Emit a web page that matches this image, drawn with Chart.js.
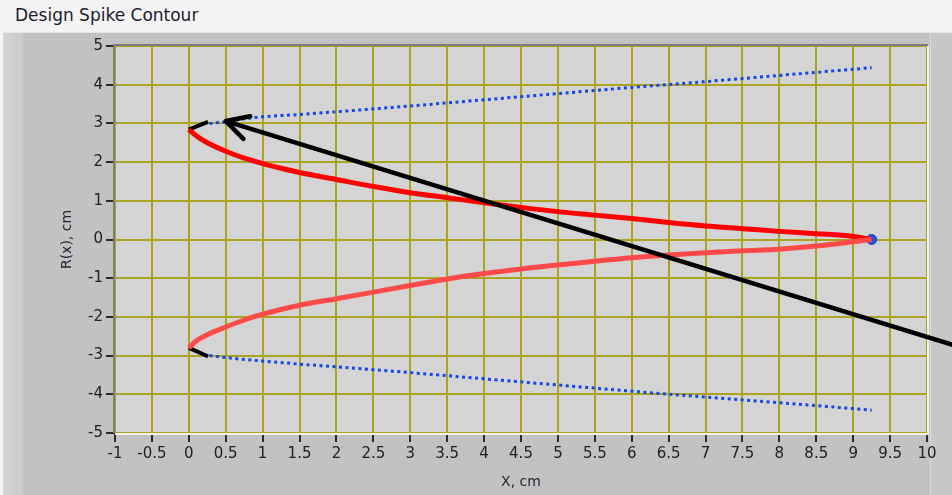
<!DOCTYPE html>
<html>
<head>
<meta charset="utf-8">
<script src="https://cdn.jsdelivr.net/npm/chart.js@4.4.1/dist/chart.umd.min.js"></script>
<style>
  html, body { margin: 0; padding: 0; }
  body { width: 952px; height: 495px; background: #f4f4f4; position: relative; overflow: hidden; font-family: "DejaVu Sans", sans-serif; }
  #title { position: absolute; left: 15px; top: 5px; font-size: 17px; color: #1c1c2c; white-space: nowrap; }
  #panel { position: absolute; left: 3px; top: 32px; right: 0; bottom: 0; background: #c2c2c2; border-top: 1px solid #e6e6e6; }
  #panel .lstrip { position: absolute; left: 0; top: 0; bottom: 0; width: 20px; background: linear-gradient(to right, #d4d4d4, #c9c9c9); }
  #panel .rstrip { position: absolute; right: 0; top: 0; bottom: 0; width: 21px; background: #c7c7c7; border-left: 1px solid #dcdcdc; }
  #chart { position: absolute; left: 0; top: 0; }
</style>
</head>
<body>
<div id="title">Design Spike Contour</div>
<div id="panel"><div class="lstrip"></div><div class="rstrip"></div></div>
<canvas id="chart" width="952" height="495"></canvas>
<script>
document.addEventListener('DOMContentLoaded', () => {

    // Valores.
    const xTickValues = [-1, -0.5, 0, 0.5, 1, 1.5, 2, 2.5, 3, 3.5, 4, 4.5, 5, 5.5, 6, 6.5, 7, 7.5, 8, 8.5, 9, 9.5, 10];
    const yTickValues = [-5, -4, -3, -2, -1, 0, 1, 2, 3, 4, 5];

    const contourX = [0, 0.1, 0.25, 0.5, 0.75, 1, 1.25, 1.5, 2, 2.5, 3, 3.5, 4, 4.5, 5, 5.5, 6, 6.5, 7, 7.5, 8, 8.5, 9, 9.25];
    const contourUpper = [2.84, 2.68, 2.50, 2.28, 2.10, 1.96, 1.84, 1.73, 1.55, 1.37, 1.21, 1.08, 0.95, 0.83, 0.72, 0.63, 0.54, 0.44, 0.35, 0.28, 0.21, 0.15, 0.08, 0];
    const contourLower = [-2.80, -2.62, -2.46, -2.26, -2.08, -1.93, -1.81, -1.70, -1.53, -1.36, -1.19, -1.02, -0.88, -0.76, -0.66, -0.56, -0.47, -0.40, -0.34, -0.29, -0.25, -0.17, -0.06, 0];

    const shockX = [0.28, 0.5, 0.75, 1, 1.5, 2, 3, 4, 5, 6, 7, 8, 9, 9.25];
    const shockUpper = [3.00, 3.04, 3.12, 3.17, 3.23, 3.30, 3.45, 3.61, 3.77, 3.93, 4.08, 4.24, 4.40, 4.44];
    const shockLower = [-3.00, -3.05, -3.10, -3.14, -3.22, -3.29, -3.44, -3.60, -3.76, -3.92, -4.07, -4.22, -4.37, -4.41];

    const linkX = [0, 0.26];
    const linkUpper = [2.84, 3.04];
    const linkLower = [-2.80, -3.02];

    const tipPoint = [9.25, 0];

    // Seta desenhada por cima do gráfico (ponta e cauda em unidades do gráfico).
    const arrowHead = [0.5, 3.06];
    const arrowTail = [10.4, -2.75];

    const gridColor = '#aaa420';
    const toPoints = (xs, ys) => xs.map((x, i) => ({ x: x, y: ys[i] }));

    const plotBackground = {
        id: 'plotBackground',
        beforeDraw(chart) {
            const { ctx, chartArea: a } = chart;
            ctx.save();
            ctx.fillStyle = '#d4d4d4';
            ctx.fillRect(a.left, a.top, a.right - a.left, a.bottom - a.top);
            ctx.restore();
        },
        beforeDatasetsDraw(chart) {
            const { ctx, chartArea: a } = chart;
            ctx.save();
            ctx.lineWidth = 2;
            ctx.strokeStyle = '#f2f2f2';
            ctx.beginPath();
            ctx.moveTo(a.right + 1, a.top);
            ctx.lineTo(a.right + 1, a.bottom + 1);
            ctx.lineTo(a.left, a.bottom + 1);
            ctx.stroke();
            ctx.strokeStyle = '#7c7c7c';
            ctx.beginPath();
            ctx.moveTo(a.left - 1, a.bottom);
            ctx.lineTo(a.left - 1, a.top - 1);
            ctx.lineTo(a.right + 1, a.top - 1);
            ctx.stroke();
            ctx.restore();
        },
        afterDraw(chart) {
            const { ctx } = chart;
            const xs = chart.scales.x, ys = chart.scales.y;
            const hx = xs.getPixelForValue(arrowHead[0]), hy = ys.getPixelForValue(arrowHead[1]);
            const tx = xs.getPixelForValue(arrowTail[0]), ty = ys.getPixelForValue(arrowTail[1]);
            const back = Math.atan2(ty - hy, tx - hx);
            const wing = 25, spread = 0.49;
            ctx.save();
            ctx.strokeStyle = '#000';
            ctx.lineWidth = 4.5;
            ctx.lineCap = 'round';
            ctx.lineJoin = 'round';
            ctx.beginPath();
            ctx.moveTo(tx, ty);
            ctx.lineTo(hx, hy);
            ctx.moveTo(hx + wing * Math.cos(back - spread), hy + wing * Math.sin(back - spread));
            ctx.lineTo(hx, hy);
            ctx.lineTo(hx + wing * Math.cos(back + spread), hy + wing * Math.sin(back + spread));
            ctx.stroke();
            ctx.restore();
        }
    };

    const lineSet = (data, color, width, dash) => ({
        data: data,
        showLine: true,
        borderColor: color,
        backgroundColor: color,
        borderWidth: width,
        borderDash: dash || [],
        pointRadius: 0,
        cubicInterpolationMode: 'monotone',
        fill: false
    });

    const tickFont = { family: 'DejaVu Sans', size: 15 };
    const titleFont = { family: 'DejaVu Sans', size: 14 };

    new Chart(document.getElementById('chart'), {
        type: 'scatter',
        data: {
            datasets: [
                lineSet(toPoints(shockX, shockUpper), '#1646e8', 3, [3, 3.5]),
                lineSet(toPoints(shockX, shockLower), '#1646e8', 3, [3, 3.5]),
                lineSet(toPoints(contourX, contourLower), '#ff4a4a', 5),
                lineSet(toPoints(contourX, contourUpper), '#ff0000', 5),
                lineSet(toPoints(linkX, linkUpper), '#000000', 4),
                lineSet(toPoints(linkX, linkLower), '#000000', 4),
                {
                    data: [{ x: tipPoint[0], y: tipPoint[1] }],
                    pointRadius: 5,
                    pointBackgroundColor: '#1f55e0',
                    pointBorderColor: '#1a3fb0',
                    pointBorderWidth: 1
                }
            ]
        },
        options: {
            responsive: false,
            devicePixelRatio: 1,
            animation: false,
            layout: { padding: { left: 55, top: 46, right: 25, bottom: 0 } },
            plugins: { legend: { display: false }, tooltip: { enabled: false } },
            scales: {
                x: {
                    type: 'linear',
                    min: -1,
                    max: 10,
                    afterBuildTicks: (scale) => { scale.ticks = xTickValues.map(v => ({ value: v })); },
                    afterFit: (scale) => { scale.height = 62; },
                    ticks: { color: '#202020', font: tickFont, padding: 3, maxRotation: 0, autoSkip: false, callback: v => String(v) },
                    grid: { color: gridColor, lineWidth: 2, tickColor: '#2a2a2a', tickLength: 9, tickWidth: 2 },
                    border: { display: false },
                    title: { display: true, text: 'X, cm', color: '#202838', font: titleFont, padding: { top: 4, bottom: 4 } }
                },
                y: {
                    type: 'linear',
                    min: -5,
                    max: 5,
                    afterBuildTicks: (scale) => { scale.ticks = yTickValues.map(v => ({ value: v })); },
                    afterFit: (scale) => { scale.width = 60; },
                    ticks: { color: '#202020', font: tickFont, padding: 3, autoSkip: false, callback: v => String(v) },
                    grid: { color: gridColor, lineWidth: 2, tickColor: '#2a2a2a', tickLength: 9, tickWidth: 2 },
                    border: { display: false },
                    title: { display: true, text: 'R(x), cm', color: '#202838', font: titleFont, padding: { top: 4, bottom: 4 } }
                }
            }
        },
        plugins: [plotBackground]
    });
});
</script>
</body>
</html>
